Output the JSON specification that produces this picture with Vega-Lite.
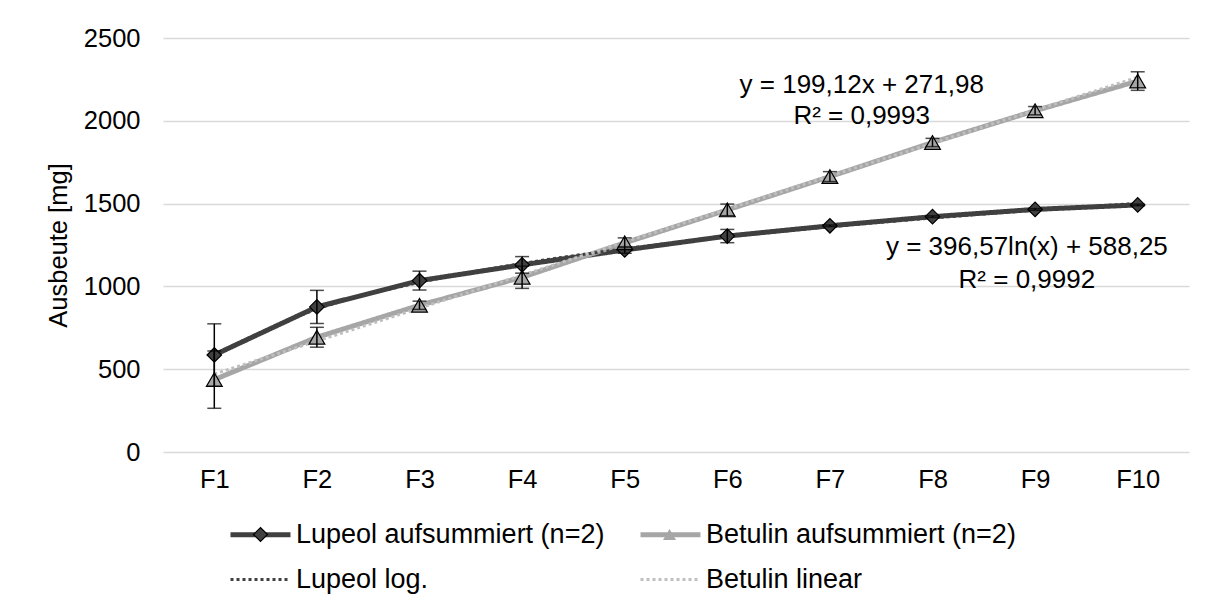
{
  "$schema": "https://vega.github.io/schema/vega-lite/v6.json",
  "width": 1026,
  "height": 414,
  "autosize": {"type": "none"},
  "padding": {"left": 163, "top": 38, "right": 25, "bottom": 158},
  "background": "white",
  "datasets": {
    "pts": [
      {"x": 1, "series": "Lupeol aufsummiert (n=2)", "value": 586, "err": 188},
      {"x": 2, "series": "Lupeol aufsummiert (n=2)", "value": 876, "err": 100},
      {"x": 3, "series": "Lupeol aufsummiert (n=2)", "value": 1035, "err": 57},
      {"x": 4, "series": "Lupeol aufsummiert (n=2)", "value": 1130, "err": 50},
      {"x": 5, "series": "Lupeol aufsummiert (n=2)", "value": 1220, "err": 20},
      {"x": 6, "series": "Lupeol aufsummiert (n=2)", "value": 1304, "err": 40},
      {"x": 7, "series": "Lupeol aufsummiert (n=2)", "value": 1366, "err": 5},
      {"x": 8, "series": "Lupeol aufsummiert (n=2)", "value": 1421, "err": 5},
      {"x": 9, "series": "Lupeol aufsummiert (n=2)", "value": 1465, "err": 5},
      {"x": 10, "series": "Lupeol aufsummiert (n=2)", "value": 1492, "err": 5},
      {"x": 1, "series": "Betulin aufsummiert (n=2)", "value": 437, "err": 173},
      {"x": 2, "series": "Betulin aufsummiert (n=2)", "value": 693, "err": 60},
      {"x": 3, "series": "Betulin aufsummiert (n=2)", "value": 886, "err": 25},
      {"x": 4, "series": "Betulin aufsummiert (n=2)", "value": 1055, "err": 67},
      {"x": 5, "series": "Betulin aufsummiert (n=2)", "value": 1263, "err": 30},
      {"x": 6, "series": "Betulin aufsummiert (n=2)", "value": 1462, "err": 35},
      {"x": 7, "series": "Betulin aufsummiert (n=2)", "value": 1663, "err": 30},
      {"x": 8, "series": "Betulin aufsummiert (n=2)", "value": 1869, "err": 25},
      {"x": 9, "series": "Betulin aufsummiert (n=2)", "value": 2061, "err": 25},
      {"x": 10, "series": "Betulin aufsummiert (n=2)", "value": 2240, "err": 56}
    ],
    "trend": [
      {"x": 1, "series": "Lupeol log.", "value": 588},
      {"x": 2, "series": "Lupeol log.", "value": 863},
      {"x": 3, "series": "Lupeol log.", "value": 1024},
      {"x": 4, "series": "Lupeol log.", "value": 1138},
      {"x": 5, "series": "Lupeol log.", "value": 1227},
      {"x": 6, "series": "Lupeol log.", "value": 1299},
      {"x": 7, "series": "Lupeol log.", "value": 1360},
      {"x": 8, "series": "Lupeol log.", "value": 1413},
      {"x": 9, "series": "Lupeol log.", "value": 1460},
      {"x": 10, "series": "Lupeol log.", "value": 1501},
      {"x": 1, "series": "Betulin linear", "value": 471},
      {"x": 2, "series": "Betulin linear", "value": 670},
      {"x": 3, "series": "Betulin linear", "value": 869},
      {"x": 4, "series": "Betulin linear", "value": 1068},
      {"x": 5, "series": "Betulin linear", "value": 1268},
      {"x": 6, "series": "Betulin linear", "value": 1467},
      {"x": 7, "series": "Betulin linear", "value": 1666},
      {"x": 8, "series": "Betulin linear", "value": 1865},
      {"x": 9, "series": "Betulin linear", "value": 2064},
      {"x": 10, "series": "Betulin linear", "value": 2263}
    ],
    "notes": [
      {"x": 7.31, "value": 2216, "text": "y = 199,12x + 271,98"},
      {"x": 7.31, "value": 2032, "text": "R² = 0,9993"},
      {"x": 8.92, "value": 1236, "text": "y = 396,57ln(x) + 588,25"},
      {"x": 8.92, "value": 1040, "text": "R² = 0,9992"}
    ]
  },
  "encoding": {
    "x": {
      "field": "x", "type": "quantitative",
      "scale": {"domain": [0.5, 10.5], "nice": false, "zero": false},
      "axis": {"values": [1,2,3,4,5,6,7,8,9,10], "labelExpr": "'F' + datum.value", "title": null, "grid": false, "ticks": false, "domain": false, "labelPadding": 15}
    },
    "y": {
      "field": "value", "type": "quantitative",
      "scale": {"domain": [0, 2500], "nice": false},
      "axis": {"values": [0,500,1000,1500,2000,2500], "format": "d", "title": "Ausbeute [mg]", "titlePadding": 12, "labelPadding": 23, "grid": true, "ticks": false, "domain": false}
    }
  },
  "layer": [
    {
      "data": {"name": "pts"},
      "mark": {"type": "line", "strokeWidth": 5},
      "encoding": {
        "stroke": {
          "field": "series", "type": "nominal",
          "scale": {"domain": ["Lupeol aufsummiert (n=2)", "Lupeol log.", "Betulin aufsummiert (n=2)", "Betulin linear"], "range": ["#404040", "#404040", "#a6a6a6", "#bfbfbf"]},
          "legend": {"orient": "none", "legendX": 64, "legendY": 483, "columns": 2, "columnPadding": 25, "rowPadding": 17, "title": null, "symbolType": "M-1,0H5", "symbolSize": 400, "labelOffset": 42,
            "encode": {"symbols": {"update": {"strokeWidth": {"signal": "indexof(['Lupeol log.','Betulin linear'], datum.value) >= 0 ? 3 : 5"}}}}}
        },
        "strokeDash": {
          "field": "series", "type": "nominal",
          "scale": {"domain": ["Lupeol aufsummiert (n=2)", "Lupeol log.", "Betulin aufsummiert (n=2)", "Betulin linear"], "range": [[1, 0], [3, 3], [1, 0], [3, 3]]},
          "legend": {"orient": "none", "legendX": 64, "legendY": 483, "columns": 2, "columnPadding": 25, "rowPadding": 17, "title": null, "symbolType": "M-1,0H5", "symbolSize": 400, "labelOffset": 42,
            "encode": {"symbols": {"update": {"strokeWidth": {"signal": "indexof(['Lupeol log.','Betulin linear'], datum.value) >= 0 ? 3 : 5"}}}}}
        }
      }
    },
    {
      "data": {"name": "trend"},
      "mark": {"type": "line", "strokeWidth": 3, "interpolate": "monotone"},
      "encoding": {
        "stroke": {"field": "series", "type": "nominal"},
        "strokeDash": {"field": "series", "type": "nominal"}
      }
    },
    {
      "data": {"name": "pts"},
      "transform": [{"filter": "datum.series === 'Lupeol aufsummiert (n=2)'"}],
      "mark": {"type": "point", "filled": true, "shape": "diamond", "size": 210, "stroke": "black", "strokeWidth": 1.2, "opacity": 1},
      "encoding": {
        "fill": {
          "field": "series", "type": "nominal",
          "scale": {"domain": ["Lupeol aufsummiert (n=2)"], "range": ["#404040"]},
          "legend": {"orient": "none", "legendX": 64, "legendY": 483, "title": null, "symbolType": "M1.3,0L2,-0.7L2.7,0L2,0.7Z", "symbolSize": 400, "symbolStrokeColor": "black", "symbolStrokeWidth": 1.2, "labelOffset": 42, "labelExpr": "''"}
        }
      }
    },
    {
      "data": {"name": "pts"},
      "transform": [{"filter": "datum.series === 'Betulin aufsummiert (n=2)'"}],
      "mark": {"type": "point", "filled": true, "shape": "triangle-up", "size": 250, "fill": "#a6a6a6", "color": "#a6a6a6", "stroke": "black", "strokeWidth": 1.2},
      "encoding": {
        "opacity": {
          "field": "series", "type": "nominal",
          "scale": {"domain": ["Betulin aufsummiert (n=2)"], "range": [1, 1]},
          "legend": {"orient": "none", "legendX": 473, "legendY": 483, "title": null, "symbolType": "M2,-0.56L2.65,0.56L1.35,0.56Z", "symbolSize": 400, "symbolFillColor": "#a6a6a6", "symbolStrokeColor": "black", "symbolStrokeWidth": 1.2, "labelOffset": 42, "labelExpr": "''"}
        }
      }
    },
    {
      "data": {"name": "pts"},
      "mark": {"type": "errorbar", "color": "black", "ticks": {"size": 14, "thickness": 1.5, "color": "black"}, "rule": {"strokeWidth": 1.5, "color": "black"}},
      "encoding": {
        "yError": {"field": "err"},
        "detail": {"field": "series", "type": "nominal"}
      }
    },
    {
      "data": {"name": "notes"},
      "mark": {"type": "text", "fontSize": 26, "align": "center", "baseline": "middle", "font": "Liberation Sans", "color": "black"},
      "encoding": {"text": {"field": "text", "type": "nominal"}}
    }
  ],
  "config": {
    "view": {"stroke": null},
    "font": "Liberation Sans",
    "axis": {"labelFont": "Liberation Sans", "labelFontSize": 25.5, "labelColor": "black", "titleFont": "Liberation Sans", "titleFontSize": 25.5, "titleFontWeight": "normal", "titleColor": "black", "gridColor": "#d9d9d9", "gridWidth": 1.5},
    "legend": {"labelFont": "Liberation Sans", "labelFontSize": 27, "labelColor": "black", "labelLimit": 0}
  }
}
